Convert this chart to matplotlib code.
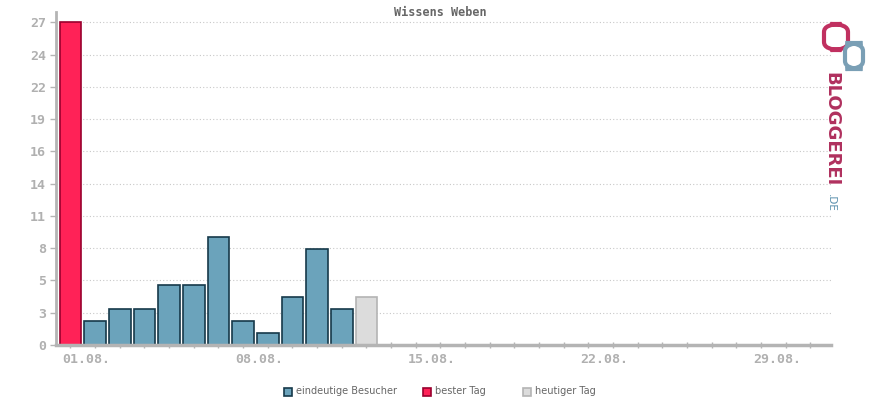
import matplotlib.pyplot as plt
import matplotlib.transforms as mtransforms
from matplotlib.patches import Rectangle, FancyBboxPatch

# visitors per day in August (day 13 = today)
days = list(range(1, 14))
visitors = [27, 2, 3, 3, 5, 5, 9, 2, 1, 4, 8, 3, 4]
best_day = 1
today = 13

ytick_pos = [0, 2.7, 5.4, 8.1, 10.8, 13.5, 16.2, 18.9, 21.6, 24.3, 27]
ytick_labels = ['0', '3', '5', '8', '11', '14', '16', '19', '22', '24', '27']
xtick_days = [1, 8, 15, 22, 29]
xtick_labels = ['01.08.', '08.08.', '15.08.', '22.08.', '29.08.']

blue, blue_edge = '#6ba3bb', '#16394a'
red, red_edge = '#ff2257', '#99002e'
grey, grey_edge = '#dcdcdc', '#b4b4b4'
axis_col = '#b4b4b4'
mono = 'DejaVu Sans Mono'


def main():
    fig = plt.figure(figsize=(8.7, 4), dpi=100)
    ax = fig.add_axes([0.064, 0.1375, 0.891, 0.8317])

    colors, edges = [], []
    for d in days:
        if d == best_day:
            colors.append(red); edges.append(red_edge)
        elif d == today:
            colors.append(grey); edges.append(grey_edge)
        else:
            colors.append(blue); edges.append(blue_edge)
    ax.bar(days, visitors, width=0.88, color=colors, edgecolor=edges,
           linewidth=1.2, zorder=3)

    ax.set_xlim(0.4, 31.83)
    ax.set_ylim(0, 27.85)

    # grid
    for y in ytick_pos[1:]:
        ax.axhline(y, color='#c8c8c8', linestyle=(0, (1, 2)), linewidth=0.8, zorder=1)

    for s in ['top', 'right']:
        ax.spines[s].set_visible(False)
    ax.spines['left'].set_color(axis_col)
    ax.spines['left'].set_linewidth(2)
    ax.spines['bottom'].set_color(axis_col)
    ax.spines['bottom'].set_linewidth(2.5)
    ax.spines['bottom'].set_zorder(4)

    ax.set_yticks(ytick_pos)
    ax.set_yticklabels(ytick_labels, fontfamily=mono, fontsize=9.5,
                       color='#b0b0b0', fontweight='bold')
    ax.tick_params(axis='y', length=4, width=1, color=axis_col, pad=3)

    ax.set_xticks(range(1, 32), minor=True)
    ax.set_xticks(xtick_days)
    ax.set_xticklabels(xtick_labels, fontfamily=mono, fontsize=9.5,
                       color='#b0b0b0', fontweight='bold')
    ax.tick_params(axis='x', which='both', direction='inout', length=5,
                   width=1, color=axis_col, pad=3)
    offset = mtransforms.ScaledTranslation(16 / 100, 0, fig.dpi_scale_trans)
    for lab in ax.get_xticklabels():
        lab.set_transform(lab.get_transform() + offset)

    fig.text(0.506, 0.97, 'Wissens Weben', ha='center', va='center',
             fontfamily=mono, fontsize=8.5, color='#666666', fontweight='bold')

    # legend
    items = [('eindeutige Besucher', blue, blue_edge, 284),
             ('bester Tag', red, red_edge, 423),
             ('heutiger Tag', grey, grey_edge, 523)]
    for text, c, e, x in items:
        fig.patches.append(Rectangle((x / 870, 1 - 396 / 400), 8 / 870, 8 / 400,
                                     transform=fig.transFigure, facecolor=c,
                                     edgecolor=e, linewidth=1.2))
        fig.text((x + 12) / 870, 1 - 391.5 / 400, text, ha='left', va='center',
                 fontsize=7, color='#666666')

    # logo
    fig.text(831 / 870, 1 - 72 / 400, 'BLOGGEREI', rotation=-90, ha='center',
             va='top', fontsize=13, fontweight='bold', color='#b0305e')
    fig.text(831 / 870, 1 - 194 / 400, '.DE', rotation=-90, ha='center',
             va='top', fontsize=7.5, color='#5a90ad')
    fig.patches.append(FancyBboxPatch((824 / 870, 1 - 50 / 400), 24 / 870, 26 / 400,
                                      boxstyle='round,pad=0,rounding_size=0.02',
                                      transform=fig.transFigure, facecolor='none',
                                      edgecolor='#c03060', linewidth=3))
    fig.patches.append(FancyBboxPatch((845 / 870, 1 - 69 / 400), 18 / 870, 26 / 400,
                                      boxstyle='round,pad=0,rounding_size=0.02',
                                      transform=fig.transFigure, facecolor='none',
                                      edgecolor='#7a9fb5', linewidth=3))

    fig.savefig('out.png', dpi=100)


if __name__ == "__main__":
    main()
